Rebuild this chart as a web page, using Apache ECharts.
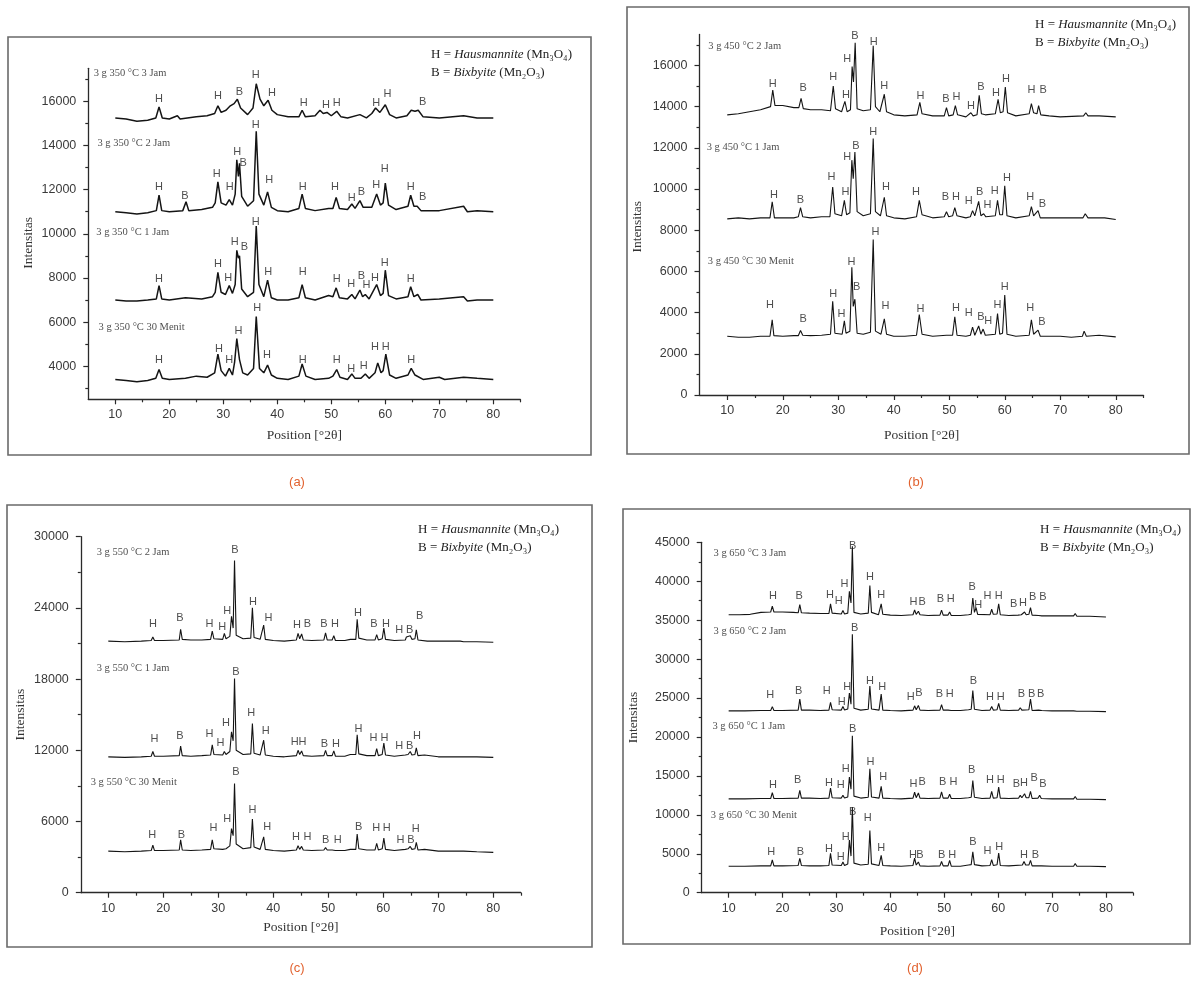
<!DOCTYPE html>
<html><head><meta charset="utf-8">
<script src="https://cdn.jsdelivr.net/npm/echarts@6/dist/echarts.min.js"></script>
<style>html,body{margin:0;padding:0;background:#fff}#c{width:1197px;height:987px}</style>
</head><body><div id="c"></div><script>
// ---------- tick labels ----------
const xMajor = [10,20,30,40,50,60,70,80];
const xMinor = [15,25,35,45,55,65,75,85];
const yMajorA = [4000,6000,8000,10000,12000,14000,16000];
const yMinorA = [3000,5000,7000,9000,11000,13000,15000,17000];
const yMajorB = [0,2000,4000,6000,8000,10000,12000,14000,16000];
const yMinorB = [1000,3000,5000,7000,9000,11000,13000,15000,17000];
const yMajorC = [0,6000,12000,18000,24000,30000];
const yMinorC = [3000,9000,15000,21000,27000];
const yMajorD = [0,5000,10000,15000,20000,25000,30000,35000,40000,45000];
const yMinorD = [2500,7500,12500,17500,22500,27500,32500,37500,42500];

// ---------- (a) 350 °C ----------
const a350_3Jam = [[10,15250],[12,15200],[14,15100],[16,15150],[17.5,15250],[18.1,15750],[18.7,15250],[20,15200],[21.5,15350],[22,15200],[25,15300],[27,15350],[28.4,15450],[29,15800],[29.6,15500],[30.5,15600],[31.3,15800],[32,15900],[32.6,16100],[33.2,15700],[34.5,15400],[35.5,15700],[36.1,16800],[36.8,16100],[37.5,15800],[38.3,16050],[39,15600],[40,15400],[42,15300],[44,15300],[44.6,15600],[45.2,15300],[47,15350],[47.9,15600],[48.5,15450],[49.2,15500],[50,15350],[51,15550],[51.8,15300],[53,15250],[55.3,15400],[56.5,15250],[57.5,15450],[58.2,15700],[59,15500],[60,15850],[60.8,15400],[62,15250],[64,15350],[64.8,15600],[65.5,15550],[66.1,15600],[67,15300],[70,15250],[74.5,15350],[77,15250],[80,15250]];
const a350_2Jam = [[10,11000],[12,10950],[14,10900],[16,10950],[17.6,11050],[18.1,11750],[18.6,11050],[20,11000],[22.5,11050],[23.1,11450],[23.6,11050],[26,11100],[28,11200],[28.5,11400],[29,12350],[29.6,11400],[30.5,11300],[31.1,11550],[31.7,11300],[32.2,11800],[32.5,13350],[32.8,12600],[33,13200],[33.4,11700],[34.5,11250],[35.6,11500],[36.1,14650],[36.6,11800],[37.5,11300],[38.2,11900],[38.9,11200],[40,11050],[42,11000],[44,11150],[44.6,11800],[45.2,11150],[47,11050],[49.5,11150],[50.3,11150],[50.9,11650],[51.5,11150],[53,11100],[53.8,11350],[54.4,11150],[55.3,11500],[55.9,11200],[57.5,11200],[58.4,11800],[59.1,11300],[59.6,11400],[60,12300],[60.6,11300],[62,11100],[64.2,11250],[64.7,11750],[65.3,11250],[65.9,11250],[66.6,11050],[70,11050],[74.5,11250],[75.2,11000],[77,11050],[80,11000]];
const a350_1Jam = [[10,7000],[12,6950],[14,6950],[16,7000],[17.6,7050],[18.1,7650],[18.6,7050],[20,7000],[23,7100],[26,7050],[28,7150],[28.5,7350],[29,8250],[29.6,7350],[30.4,7250],[31.1,7650],[31.7,7300],[32.2,7700],[32.5,9250],[32.8,8900],[33,9000],[33.4,7500],[34.5,7150],[35.6,7350],[36.1,10350],[36.6,7700],[37.5,7150],[38.2,7900],[38.9,7100],[40,7000],[42,7000],[44,7100],[44.6,7700],[45.2,7100],[47,7000],[49.5,7200],[50.3,7150],[50.9,7550],[51.5,7100],[53,7050],[53.8,7250],[54.4,7050],[55.3,7450],[55.8,7150],[56.3,7250],[57,7050],[58.4,7700],[59.1,7200],[59.6,7300],[60,8350],[60.6,7200],[62,7050],[64.2,7150],[64.7,7600],[65.3,7150],[66,7250],[66.6,7000],[70,7050],[74.5,7150],[75.2,6950],[77,7000],[80,7000]];
const a350_30Menit = [[10,3400],[12,3350],[14,3300],[16,3350],[17.5,3450],[18.1,3850],[18.7,3450],[20,3400],[23,3450],[25,3550],[27,3500],[28.4,3700],[29,4550],[29.6,3800],[30.4,3550],[31.1,3900],[31.7,3600],[32.1,4200],[32.5,5250],[33,4300],[33.6,3700],[34.5,3600],[35.6,3900],[36.1,6250],[36.7,3900],[37.5,3700],[38.2,4050],[38.9,3600],[40,3450],[42,3400],[44,3550],[44.6,4100],[45.3,3550],[47,3400],[49.5,3450],[50.3,3550],[51,3850],[51.6,3500],[53,3400],[53.8,3650],[54.4,3450],[55.5,3450],[56.3,3650],[57,3450],[58.1,3700],[58.6,4150],[59.2,3700],[59.6,3800],[60.1,4550],[60.8,3600],[62,3450],[64.2,3600],[64.8,3900],[65.5,3600],[67,3400],[70,3500],[71,3400],[74.5,3500],[77,3450],[80,3400]];
const aLab_3Jam = [[18.1,16120,'H'],[29.0,16230,'H'],[33.0,16450,'B'],[36.0,17180,'H'],[39.0,16380,'H'],[44.9,15930,'H'],[49.0,15850,'H'],[51.0,15930,'H'],[58.3,15930,'H'],[60.4,16320,'H'],[66.9,15970,'B']];
const aLab_2Jam = [[18.1,12120,'H'],[22.9,11730,'B'],[28.8,12690,'H'],[31.2,12100,'H'],[32.6,13710,'H'],[33.7,13220,'B'],[36.0,14920,'H'],[38.5,12430,'H'],[44.7,12130,'H'],[50.7,12130,'H'],[53.8,11640,'H'],[55.6,11910,'B'],[58.3,12210,'H'],[59.9,12920,'H'],[64.7,12130,'H'],[66.9,11680,'B']];
const aLab_1Jam = [[18.1,7960,'H'],[29.0,8640,'H'],[30.9,7990,'H'],[32.1,9620,'H'],[33.9,9420,'B'],[36.0,10550,'H'],[38.3,8260,'H'],[44.7,8260,'H'],[51.0,7960,'H'],[53.7,7720,'H'],[55.6,8110,'B'],[56.5,7660,'H'],[58.1,8020,'H'],[59.9,8700,'H'],[64.7,7960,'H']];
const aLab_30Menit = [[18.1,4260,'H'],[29.2,4800,'H'],[31.1,4300,'H'],[32.8,5610,'H'],[36.3,6640,'H'],[38.1,4500,'H'],[44.7,4300,'H'],[51.0,4300,'H'],[53.7,3890,'H'],[56.0,4030,'H'],[58.1,4860,'H'],[60.1,4860,'H'],[64.8,4300,'H']];
const aNames = [[5.9,17290,'3 g 350 °C 3 Jam'],[6.6,14115,'3 g 350 °C 2 Jam'],[6.4,10080,'3 g 350 °C 1 Jam'],[6.8,5780,'3 g 350 °C 30 Menit']];

// ---------- (b) 450 °C ----------
const b450_2Jam = [[10,13600],[12,13650],[14,13750],[16,13850],[17.8,14000],[18.2,14800],[18.6,14050],[20,14050],[22,13950],[22.9,13950],[23.3,14400],[23.7,13900],[25,13850],[27,13850],[28.6,13800],[29.1,15000],[29.5,13900],[30.6,13750],[31.2,14250],[31.6,13750],[32.2,13850],[32.5,15950],[32.75,15200],[33.05,17100],[33.4,13900],[34.5,13800],[35.8,13850],[36.3,16950],[36.7,14000],[37.5,13750],[38.3,14600],[38.7,13750],[40,13600],[42,13550],[44.2,13600],[44.7,14200],[45.1,13650],[47,13550],[49.1,13550],[49.5,13950],[49.9,13550],[50.7,13600],[51.1,14050],[51.5,13600],[53,13500],[53.9,13700],[54.3,13550],[55,13600],[55.4,14550],[55.8,13650],[56.5,13600],[58.3,13650],[58.8,14350],[59.2,13700],[59.7,13750],[60.1,14950],[60.5,13700],[62,13550],[64.4,13650],[64.8,14150],[65.2,13700],[65.8,13650],[66.1,14050],[66.5,13600],[68,13550],[70,13500],[74.2,13550],[74.6,13700],[75,13550],[77,13550],[80,13500]];
const b450_1Jam = [[10,8550],[12,8600],[14,8550],[16,8600],[17.7,8600],[18.1,9380],[18.5,8600],[20,8600],[22,8600],[22.8,8650],[23.2,9100],[23.6,8650],[25,8600],[27,8650],[28.5,8650],[29,10100],[29.4,8800],[30.6,8700],[31.1,9450],[31.5,8750],[32.1,8850],[32.45,11400],[32.7,10500],[33.0,11800],[33.4,8900],[34.5,8700],[35.8,8800],[36.3,12450],[36.7,8900],[37.6,8700],[38.3,9600],[38.7,8700],[40,8600],[42,8550],[44.1,8650],[44.6,9450],[45.1,8750],[47,8600],[49.1,8650],[49.5,8900],[49.9,8650],[50.6,8700],[51,9100],[51.4,8700],[53,8600],[53.8,8650],[54.2,8950],[54.6,8700],[55.3,9400],[55.7,8700],[56.2,8800],[56.6,8650],[58.3,8700],[58.7,9450],[59.1,8750],[59.6,8750],[60,10150],[60.4,8700],[62,8600],[64.4,8700],[64.8,9150],[65.2,8700],[66,8950],[66.4,8600],[68,8600],[70,8600],[74.1,8600],[74.5,8800],[75,8600],[78,8600],[80,8520]];
const b450_30Menit = [[10,2850],[12,2800],[14,2800],[16,2850],[17.7,2850],[18.1,3650],[18.4,2880],[20,2850],[22,2880],[22.8,2880],[23.2,3130],[23.6,2900],[25,2880],[27,2900],[28.6,2950],[29,4550],[29.4,3000],[30.7,2950],[31.1,3600],[31.4,3000],[32.1,3100],[32.45,6200],[32.7,4300],[33.0,4650],[33.4,3000],[34.5,2950],[35.8,3050],[36.3,7550],[36.7,3100],[37.7,2950],[38.3,3700],[38.7,2950],[40,2850],[42,2850],[44.1,2900],[44.6,3900],[45.1,2950],[47,2850],[49.5,2900],[50.6,2900],[51,3800],[51.4,2900],[53,2850],[53.8,2900],[54.2,3300],[54.6,2900],[55.3,3350],[55.7,2950],[56.1,3200],[56.5,2900],[58.3,2950],[58.7,3950],[59.1,2950],[59.6,3000],[60,4850],[60.4,2950],[62,2850],[64.4,2900],[64.8,3650],[65.2,2950],[66,3150],[66.4,2850],[68,2850],[70,2850],[72,2800],[74.0,2850],[74.3,3100],[74.7,2850],[77,2900],[80,2820]];
const bLab_2Jam = [[18.2,15110,'H'],[23.7,14900,'B'],[29.1,15430,'H'],[31.4,14570,'H'],[31.6,16310,'H'],[33.0,17450,'B'],[36.4,17120,'H'],[38.3,15010,'H'],[44.8,14540,'H'],[49.4,14360,'B'],[51.3,14490,'H'],[53.9,14040,'H'],[55.7,14950,'B'],[58.4,14660,'H'],[60.2,15350,'H'],[64.8,14790,'H'],[66.9,14790,'B']];
const bLab_1Jam = [[18.4,9710,'H'],[23.2,9460,'B'],[28.8,10600,'H'],[31.3,9870,'H'],[31.6,11540,'H'],[33.2,12110,'B'],[36.3,12760,'H'],[38.6,10110,'H'],[44.0,9870,'H'],[49.3,9620,'B'],[51.2,9620,'H'],[53.5,9410,'H'],[55.5,9840,'B'],[56.9,9220,'H'],[58.2,9900,'H'],[60.4,10520,'H'],[64.6,9590,'H'],[66.8,9270,'B']];
const bLab_30Menit = [[17.7,4350,'H'],[23.7,3700,'B'],[29.1,4920,'H'],[30.6,3940,'H'],[32.4,6460,'H'],[33.3,5240,'B'],[36.7,7920,'H'],[38.5,4300,'H'],[44.8,4190,'H'],[51.2,4240,'H'],[53.5,3990,'H'],[55.7,3780,'B'],[57.0,3590,'H'],[58.7,4350,'H'],[60.0,5240,'H'],[64.6,4240,'H'],[66.7,3540,'B']];
const bNames = [[6.5,16940,'3 g 450 °C 2 Jam'],[6.2,12040,'3 g 450 °C 1 Jam'],[6.4,6500,'3 g 450 °C 30 Menit']];

// ---------- (c) 550 °C ----------
const c550_2Jam = [[10,21200],[13,21150],[16,21200],[17.8,21250],[18.1,21550],[18.4,21250],[20,21250],[22.9,21300],[23.15,22200],[23.45,21350],[25,21300],[27,21300],[28.6,21350],[28.9,22050],[29.2,21400],[30.8,21350],[31.1,21850],[31.4,21400],[32.1,21600],[32.4,23300],[32.7,22300],[32.95,28000],[33.25,21700],[34.5,21400],[35.9,21450],[36.2,24000],[36.5,21500],[37.6,21350],[38.25,22550],[38.55,21350],[40,21250],[42,21200],[44.2,21300],[44.5,21850],[44.8,21400],[45.15,21800],[45.45,21300],[47,21250],[49.2,21300],[49.5,21900],[49.8,21300],[50.7,21300],[51,21650],[51.3,21250],[53,21250],[54,21350],[55,21350],[55.25,23050],[55.55,21450],[57,21300],[58.5,21300],[58.8,21750],[59.1,21300],[59.8,21400],[60.1,22300],[60.4,21350],[62,21250],[64,21300],[64.2,21550],[64.5,21400],[64.9,21650],[65.2,21350],[65.75,21400],[66.0,22150],[66.3,21300],[68,21200],[70,21200],[74,21200],[74.3,21350],[74.6,21150],[77,21150],[80,21100]];
const c550_1Jam = [[10,11450],[13,11400],[16,11450],[17.8,11500],[18.1,11900],[18.4,11500],[20,11500],[22.9,11550],[23.15,12350],[23.45,11550],[25,11500],[27,11550],[28.6,11600],[28.9,12450],[29.2,11650],[30.8,11600],[31.1,11900],[31.4,11650],[32.1,11900],[32.4,13550],[32.7,12800],[32.95,18050],[33.25,12000],[34.5,11650],[35.9,11700],[36.2,14250],[36.5,11750],[37.6,11600],[38.25,12850],[38.55,11600],[40,11500],[42,11450],[44.2,11550],[44.5,12000],[44.8,11650],[45.15,11950],[45.45,11550],[47,11500],[49.2,11550],[49.5,12000],[49.8,11550],[50.7,11550],[51,11950],[51.3,11500],[53,11500],[54,11650],[55,11650],[55.25,13300],[55.55,11700],[57,11550],[58.5,11550],[58.8,12150],[59.1,11550],[59.8,11650],[60.1,12600],[60.4,11600],[62,11500],[64,11600],[64.2,11750],[64.5,11650],[64.9,11900],[65.2,11600],[65.75,11650],[66.0,12200],[66.3,11550],[67.5,11600],[70,11450],[74,11450],[74.3,11600],[74.6,11450],[77,11450],[80,11400]];
const c550_30Menit = [[10,3500],[13,3450],[16,3500],[17.8,3550],[18.1,4000],[18.4,3550],[20,3550],[22.9,3600],[23.15,4450],[23.45,3600],[25,3550],[27,3600],[28.6,3650],[28.9,4450],[29.2,3700],[30.8,3650],[31.1,3800],[31.4,3700],[32.1,3950],[32.4,5400],[32.7,4800],[32.95,9200],[33.25,4100],[34.5,3700],[35.9,3800],[36.2,6200],[36.5,3850],[37.6,3650],[38.25,4700],[38.55,3650],[40,3550],[42,3500],[44.2,3600],[44.5,3950],[44.8,3650],[45.15,3900],[45.45,3600],[47,3550],[49.2,3600],[49.5,3800],[49.8,3600],[50.7,3600],[51,3750],[51.3,3550],[53,3550],[54,3650],[55,3650],[55.25,4950],[55.55,3700],[57,3600],[58.5,3600],[58.8,4150],[59.1,3600],[59.8,3700],[60.1,4600],[60.4,3650],[62,3550],[64,3650],[64.2,3800],[64.5,3700],[64.9,3900],[65.2,3650],[65.75,3700],[66.0,4250],[66.3,3600],[67.5,3650],[70,3500],[74,3500],[74.3,3650],[74.6,3500],[77,3450],[80,3400]];
const cLab_2Jam = [[18.1,22610,'H'],[23.0,23170,'B'],[28.4,22610,'H'],[30.7,22420,'H'],[31.6,23760,'H'],[33.0,28880,'B'],[36.3,24520,'H'],[39.1,23170,'H'],[44.3,22560,'H'],[46.2,22610,'B'],[49.2,22610,'B'],[51.2,22610,'H'],[55.4,23600,'H'],[58.3,22610,'B'],[60.5,22610,'H'],[62.9,22130,'H'],[64.8,22130,'B'],[66.6,23310,'B']];
const cLab_1Jam = [[18.4,12920,'H'],[23.0,13200,'B'],[28.4,13370,'H'],[30.4,12640,'H'],[31.4,14330,'H'],[33.2,18620,'B'],[36.0,15170,'H'],[38.6,13650,'H'],[43.9,12720,'H'],[45.3,12720,'H'],[49.3,12500,'B'],[51.4,12500,'H'],[55.5,13760,'H'],[58.2,13010,'H'],[60.2,13010,'H'],[62.9,12390,'H'],[64.8,12390,'B'],[66.1,13200,'H']];
const cLab_30Menit = [[18.0,4860,'H'],[23.3,4860,'B'],[29.1,5420,'H'],[31.6,6180,'H'],[33.2,10200,'B'],[36.2,6970,'H'],[38.9,5560,'H'],[44.1,4720,'H'],[46.2,4720,'H'],[49.5,4440,'B'],[51.7,4440,'H'],[55.5,5510,'B'],[58.7,5420,'H'],[60.6,5420,'H'],[63.1,4440,'H'],[65.0,4440,'B'],[65.9,5340,'H']];
const cNames = [[7.8,28650,'3 g 550 °C 2 Jam'],[7.8,18935,'3 g 550 °C 1 Jam'],[6.7,9300,'3 g 550 °C 30 Menit']];

// ---------- (d) 650 °C ----------
const d650_3Jam = [[10,35700],[12,35700],[14,35750],[16,36000],[17.8,36050],[18.1,36800],[18.4,36050],[20,36050],[22,36000],[22.9,35950],[23.2,37000],[23.5,35950],[25,35900],[27,35850],[28.6,35850],[28.9,37100],[29.2,35900],[30.9,35800],[31.2,36250],[31.5,35800],[32.1,35900],[32.4,38700],[32.7,37200],[32.95,44500],[33.25,36000],[34.5,35800],[35.9,35900],[36.2,39450],[36.5,36000],[37.8,35700],[38.3,37100],[38.6,35750],[40,35650],[42,35600],[44.2,35700],[44.5,36300],[44.8,35750],[45.2,36150],[45.5,35700],[47,35600],[49.2,35650],[49.5,36300],[49.8,35650],[50.7,35650],[51,36050],[51.3,35600],[53,35600],[54.5,35700],[55.0,35750],[55.3,37850],[55.6,36000],[55.9,36600],[56.2,35750],[58.5,35700],[58.8,36400],[59.1,35750],[59.8,35800],[60.1,37100],[60.4,35700],[62,35600],[63.7,35650],[64.0,35900],[64.3,35700],[64.9,36050],[65.2,35700],[65.7,35750],[66.0,36600],[66.3,35650],[67.5,35600],[67.8,35750],[68.1,35550],[70,35550],[74.0,35550],[74.3,35850],[74.6,35500],[77,35500],[80,35400]];
const d650_2Jam = [[10,23350],[13,23350],[16,23400],[17.8,23400],[18.1,23900],[18.4,23400],[20,23400],[22.9,23450],[23.2,24850],[23.5,23450],[25,23450],[27,23400],[28.6,23450],[28.9,24450],[29.2,23500],[30.9,23450],[31.2,23900],[31.5,23450],[32.1,23600],[32.4,25650],[32.7,24200],[32.95,33200],[33.25,23700],[34.5,23450],[35.9,23550],[36.2,26550],[36.5,23600],[37.9,23450],[38.3,25500],[38.6,23450],[40,23400],[42,23350],[44.2,23450],[44.5,24000],[44.8,23500],[45.2,24050],[45.5,23450],[47,23400],[49.2,23450],[49.5,24150],[49.8,23450],[50.7,23450],[51,23700],[51.3,23400],[53,23400],[54.5,23500],[55.0,23550],[55.3,25950],[55.6,23550],[57,23400],[58.5,23450],[58.8,23900],[59.1,23450],[59.8,23500],[60.1,24300],[60.4,23450],[62,23400],[63.8,23450],[64.1,23750],[64.4,23450],[65.7,23500],[66.0,24850],[66.3,23400],[67.5,23450],[67.8,23550],[68.1,23400],[70,23350],[74.0,23350],[74.3,23450],[74.6,23300],[77,23300],[80,23250]];
const d650_1Jam = [[10,12050],[13,12050],[16,12100],[17.8,12100],[18.1,12850],[18.4,12100],[20,12100],[22.9,12150],[23.2,13150],[23.5,12150],[25,12150],[27,12100],[28.6,12150],[28.9,13450],[29.2,12200],[30.9,12150],[31.2,12500],[31.5,12150],[32.1,12300],[32.4,14850],[32.7,13300],[32.95,20150],[33.25,12400],[34.5,12150],[35.9,12250],[36.2,15900],[36.5,12300],[37.9,12150],[38.3,13650],[38.6,12150],[40,12100],[42,12050],[44.2,12150],[44.5,12900],[44.8,12200],[45.2,12800],[45.5,12150],[47,12100],[49.2,12150],[49.5,12950],[49.8,12150],[50.7,12150],[51,12650],[51.3,12100],[53,12100],[54.5,12200],[55.0,12250],[55.3,14400],[55.6,12250],[57,12100],[58.5,12150],[58.8,13000],[59.1,12150],[59.8,12200],[60.1,13550],[60.4,12150],[62,12100],[63.8,12150],[64.1,12500],[64.4,12200],[64.9,12700],[65.2,12200],[65.7,12200],[66.0,13000],[66.3,12100],[67.4,12150],[67.7,12500],[68.0,12100],[70,12050],[74.0,12050],[74.3,12350],[74.6,12000],[77,12000],[80,11950]];
const d650_30Menit = [[10,3400],[13,3400],[16,3450],[17.8,3450],[18.1,4200],[18.4,3450],[20,3450],[22.9,3500],[23.2,4400],[23.5,3500],[25,3450],[27,3450],[28.6,3500],[28.9,5050],[29.2,3550],[30.9,3500],[31.2,3950],[31.5,3500],[32.1,3700],[32.4,6750],[32.7,4700],[32.95,11000],[33.25,3800],[34.5,3550],[35.9,3650],[36.2,8000],[36.5,3700],[37.9,3500],[38.3,4800],[38.6,3500],[40,3450],[42,3400],[44.2,3500],[44.5,4450],[44.8,3550],[45.2,3950],[45.5,3450],[47,3400],[49.2,3450],[49.5,4000],[49.8,3450],[50.7,3450],[51,4150],[51.3,3400],[53,3400],[54.5,3550],[55.0,3600],[55.3,5250],[55.6,3600],[57,3450],[58.5,3500],[58.8,4250],[59.1,3500],[59.8,3600],[60.1,5100],[60.4,3500],[62,3450],[64.5,3550],[64.8,4000],[65.1,3550],[65.7,3550],[66.0,4150],[66.3,3450],[68,3450],[70,3400],[74.0,3400],[74.3,3750],[74.6,3400],[77,3400],[80,3350]];
const dLab_3Jam = [[18.2,38090,'H'],[23.1,38090,'B'],[28.8,38300,'H'],[30.4,37450,'H'],[31.5,39710,'H'],[33.0,44570,'B'],[36.2,40560,'H'],[38.3,38300,'H'],[44.3,37320,'H'],[45.9,37320,'B'],[49.3,37660,'B'],[51.2,37660,'H'],[55.2,39240,'B'],[56.3,36930,'H'],[58.0,38170,'H'],[60.1,38170,'H'],[62.9,37020,'B'],[64.6,37150,'H'],[66.4,37960,'B'],[68.3,37960,'B']];
const dLab_2Jam = [[17.7,25420,'H'],[23.0,25930,'B'],[28.2,25850,'H'],[31.0,24440,'H'],[32.0,26360,'H'],[33.4,34030,'B'],[36.2,27210,'H'],[38.5,26360,'H'],[43.8,25080,'H'],[45.3,25630,'B'],[49.1,25500,'B'],[51.0,25500,'H'],[55.4,27130,'B'],[58.5,25080,'H'],[60.5,25080,'H'],[64.3,25500,'B'],[66.2,25500,'B'],[67.9,25500,'B']];
const dLab_1Jam = [[18.2,13860,'H'],[22.8,14420,'B'],[28.6,14070,'H'],[30.8,13780,'H'],[31.7,15910,'H'],[33.0,21030,'B'],[36.3,16760,'H'],[38.7,14840,'H'],[44.3,13990,'H'],[45.9,14200,'B'],[49.7,14200,'B'],[51.7,14200,'H'],[55.1,15700,'B'],[58.5,14540,'H'],[60.5,14540,'H'],[63.4,13990,'B'],[64.8,14070,'H'],[66.7,14710,'B'],[68.3,13990,'B']];
const dLab_30Menit = [[17.9,5250,'H'],[23.3,5250,'B'],[28.6,5670,'H'],[30.8,4610,'H'],[31.7,7170,'H'],[33.0,10360,'B'],[35.8,9600,'H'],[38.3,5760,'H'],[44.2,4900,'H'],[45.5,4900,'B'],[49.5,4900,'B'],[51.5,4900,'H'],[55.3,6530,'B'],[58.0,5330,'H'],[60.2,5890,'H'],[64.8,4900,'H'],[66.9,4900,'B']];
const dNames = [[7.1,43630,'3 g 650 °C 3 Jam'],[7.1,33520,'3 g 650 °C 2 Jam'],[6.9,21410,'3 g 650 °C 1 Jam'],[6.6,9980,'3 g 650 °C 30 Menit']];

// ---------- layout ----------
const SANS = '"Liberation Sans", Arial, sans-serif';
const SERIF = '"Liberation Serif", "Times New Roman", serif';
const panels = [
  {grid:{left:88.3, top:68.3, width:432, height:331}, yMin:2500, yMax:17500, yMajor:yMajorA, yMinor:yMinorA,
   yGap:53, yPad:[0,18,0,0], xGap:29, lw:1.5,
   curves:[['3 g 350 °C 3 Jam',a350_3Jam],['3 g 350 °C 2 Jam',a350_2Jam],['3 g 350 °C 1 Jam',a350_1Jam],['3 g 350 °C 30 Menit',a350_30Menit]],
   labels:[aLab_3Jam,aLab_2Jam,aLab_1Jam,aLab_30Menit], names:aNames},
  {grid:{left:699.5, top:34.5, width:444, height:360.5}, yMin:0, yMax:17500, yMajor:yMajorB, yMinor:yMinorB,
   yGap:55, yPad:[0,24,0,0], xGap:33, lw:1.1,
   curves:[['3 g 450 °C 2 Jam',b450_2Jam],['3 g 450 °C 1 Jam',b450_1Jam],['3 g 450 °C 30 Menit',b450_30Menit]],
   labels:[bLab_2Jam,bLab_1Jam,bLab_30Menit], names:bNames},
  {grid:{left:80.8, top:536.7, width:440, height:356}, yMin:0, yMax:30000, yMajor:yMajorC, yMinor:yMinorC,
   yGap:53, yPad:[0,0,0,0], xGap:28, lw:1.1,
   curves:[['3 g 550 °C 2 Jam',c550_2Jam],['3 g 550 °C 1 Jam',c550_1Jam],['3 g 550 °C 30 Menit',c550_30Menit]],
   labels:[cLab_2Jam,cLab_1Jam,cLab_30Menit], names:cNames},
  {grid:{left:701.7, top:542.3, width:431.2, height:350.4}, yMin:0, yMax:45000, yMajor:yMajorD, yMinor:yMinorD,
   yGap:61, yPad:[0,0,0,0], xGap:32, lw:1.1,
   curves:[['3 g 650 °C 3 Jam',d650_3Jam],['3 g 650 °C 2 Jam',d650_2Jam],['3 g 650 °C 1 Jam',d650_1Jam],['3 g 650 °C 30 Menit',d650_30Menit]],
   labels:[dLab_3Jam,dLab_2Jam,dLab_1Jam,dLab_30Menit], names:dNames}
];

const grids=[], xAxes=[], yAxes=[], series=[];
const axisCol = '#2a2a2a';
const plain = v => String(v);
panels.forEach((p,i)=>{
  grids.push(Object.assign({containLabel:false}, p.grid));
  const xi = xAxes.length, yi = yAxes.length;
  xAxes.push({gridIndex:i, type:'value', min:5, max:85, position:'bottom',
    name:'Position [°2θ]', nameLocation:'middle', nameGap:p.xGap,
    nameTextStyle:{fontFamily:SERIF, fontSize:13.5, color:'#333'},
    axisLine:{show:true, onZero:false, lineStyle:{color:axisCol, width:1.3}},
    axisTick:{show:true, length:5, customValues:xMajor, lineStyle:{color:axisCol, width:1.2}},
    axisLabel:{show:true, customValues:xMajor, formatter:plain, margin:9, fontFamily:SANS, fontSize:12.5, color:'#3a3a3a'},
    splitLine:{show:false}});
  xAxes.push({gridIndex:i, type:'value', min:5, max:85, position:'bottom',
    axisLine:{show:false}, axisLabel:{show:false}, splitLine:{show:false},
    axisTick:{show:true, length:3, customValues:xMinor, lineStyle:{color:axisCol, width:1.2}}});
  yAxes.push({gridIndex:i, type:'value', min:p.yMin, max:p.yMax, position:'left',
    name:'Intensitas', nameLocation:'middle', nameGap:p.yGap,
    nameTextStyle:{fontFamily:SERIF, fontSize:13.5, color:'#333', padding:p.yPad},
    axisLine:{show:true, onZero:false, lineStyle:{color:axisCol, width:1.3}},
    axisTick:{show:true, length:5, customValues:p.yMajor, lineStyle:{color:axisCol, width:1.2}},
    axisLabel:{show:true, customValues:p.yMajor, formatter:plain, margin:12, fontFamily:SANS, fontSize:12.5, color:'#3a3a3a'},
    splitLine:{show:false}});
  yAxes.push({gridIndex:i, type:'value', min:p.yMin, max:p.yMax, position:'left',
    axisLine:{show:false}, axisLabel:{show:false}, splitLine:{show:false},
    axisTick:{show:true, length:3, customValues:p.yMinor, lineStyle:{color:axisCol, width:1.2}}});
  p.curves.forEach(([nm,data])=>{
    series.push({type:'line', name:nm, xAxisIndex:xi, yAxisIndex:yi, data:data, showSymbol:false, symbol:'none',
      lineStyle:{color:'#141414', width:p.lw}, silent:true, animation:false, z:2});
  });
  p.labels.forEach((lab,k)=>{
    series.push({type:'scatter', name:p.curves[k][0]+' phases', xAxisIndex:xi, yAxisIndex:yi, data:lab,
      symbolSize:1, itemStyle:{color:'rgba(0,0,0,0)'}, silent:true, animation:false, z:3,
      label:{show:true, position:'inside', formatter:q=>q.value[2], fontFamily:SANS, fontSize:11, color:'#222'}});
  });
  series.push({type:'scatter', name:'sample names '+i, xAxisIndex:xi, yAxisIndex:yi, data:p.names,
    symbolSize:1, itemStyle:{color:'rgba(0,0,0,0)'}, silent:true, animation:false, z:3,
    label:{show:true, position:'right', distance:0, formatter:q=>q.value[2], fontFamily:SERIF, fontSize:10.5, color:'#222'}});
});

// frames, legends and captions
const frames = [[8,37,583,418],[627,7,562,447],[7,505,585,442],[623,509,567,435]];
const legendPos = [[431,55],[1035,25],[418,530],[1040,530]];
const captions = [['(a)',297,482],['(b)',916,482],['(c)',297,968],['(d)',915,968]];
const graphic = [];
frames.forEach(f=>graphic.push({type:'rect', silent:true, shape:{x:f[0],y:f[1],width:f[2],height:f[3]},
  style:{fill:'none', stroke:'#6a6a6a', lineWidth:1.6}, z:0}));
const rich = {n:{fontFamily:SERIF, fontSize:13, fill:'#222'}, i:{fontFamily:SERIF, fontSize:13, fontStyle:'italic', fill:'#222'}};
legendPos.forEach(([x,y])=>{
  graphic.push({type:'text', silent:true, x:x, y:y, style:{text:'{n|H = }{i|Hausmannite}{n| (Mn₃O₄)}', rich:rich, verticalAlign:'middle', align:'left'}});
  graphic.push({type:'text', silent:true, x:x, y:y+17.5, style:{text:'{n|B = }{i|Bixbyite}{n| (Mn₂O₃)}', rich:rich, verticalAlign:'middle', align:'left'}});
});
captions.forEach(([t,x,y])=>graphic.push({type:'text', silent:true, x:x, y:y,
  style:{text:t, fontFamily:SANS, fontSize:13, fill:'#e2622f', align:'center', verticalAlign:'middle'}}));

const chart = echarts.init(document.getElementById('c'), null, {renderer:'canvas'});
chart.setOption({backgroundColor:'#ffffff', animation:false, grid:grids, xAxis:xAxes, yAxis:yAxes, series:series, graphic:graphic});
</script></body></html>
